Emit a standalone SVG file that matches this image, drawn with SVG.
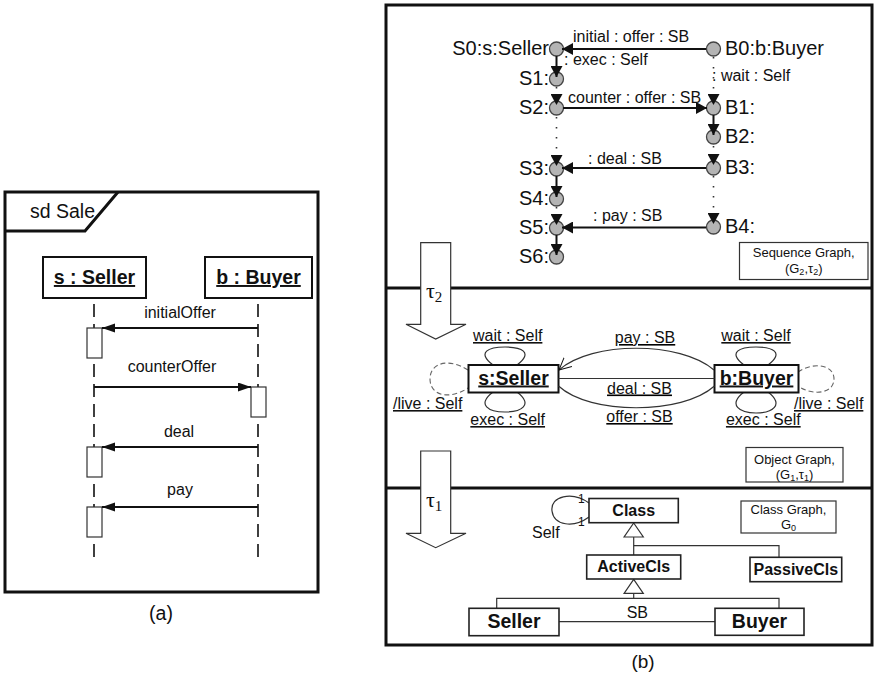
<svg xmlns="http://www.w3.org/2000/svg" width="876" height="681" viewBox="0 0 876 681">
<defs>
<style>
text{font-family:"Liberation Sans",Arial,sans-serif;fill:#111}
.frame{fill:none;stroke:#111;stroke-width:3}
.msg{fill:none;stroke:#111;stroke-width:2}
.life{fill:none;stroke:#111;stroke-width:1.6;stroke-dasharray:13 7}
.act{fill:#fff;stroke:#333;stroke-width:1.2}
.obj{fill:#fff;stroke:#111;stroke-width:2}
.st{fill:#b4b4b4;stroke:#444;stroke-width:1.3}
.sol{fill:none;stroke:#111;stroke-width:2}
.dot{fill:none;stroke:#333;stroke-width:1.6;stroke-dasharray:1.5 8.5}
.thin{fill:none;stroke:#333;stroke-width:1.2}
.box{fill:#fff;stroke:#333;stroke-width:1.2}
.cls{fill:#fff;stroke:#222;stroke-width:1.6}
.big{fill:#fff;stroke:#333;stroke-width:1.2}
.dash{fill:none;stroke:#666;stroke-width:1.1;stroke-dasharray:5 3}
.u{text-decoration:underline}
.b{font-weight:bold}
.tau{font-family:"Liberation Serif","Times New Roman",serif}
</style>
<marker id="fa" markerUnits="userSpaceOnUse" markerWidth="14" markerHeight="10" refX="13" refY="4.5" orient="auto"><path d="M0,0 L13,4.5 L0,9 z" fill="#111"/></marker>
<marker id="fs" markerUnits="userSpaceOnUse" markerWidth="12" markerHeight="12" refX="11" refY="6" orient="auto"><path d="M0,0 L11,6 L0,12 z" fill="#111"/></marker>
<marker id="oa" markerUnits="userSpaceOnUse" markerWidth="14" markerHeight="14" refX="12" refY="7" orient="auto"><path d="M0,1 L12,7 L0,13" fill="none" stroke="#111" stroke-width="1"/></marker>
</defs>

<!-- (a) sequence diagram -->
<g id="frame-a">
<rect class="frame" x="5" y="192" width="313" height="400"/>
<polyline class="frame" points="5,231 85,231 118,192"/>
<text x="30" y="218" font-size="19.5">sd Sale</text>
</g>
<g id="lifeline-seller">
<rect x="43" y="257" width="103" height="41" fill="#fff" stroke="#111" stroke-width="2"/>
<text x="94.5" y="284" font-size="19.5" text-anchor="middle" class="b u">s : Seller</text>
<line class="life" x1="94" y1="304" x2="94" y2="557"/>
<rect class="act" x="87" y="328" width="15" height="30"/>
<rect class="act" x="87" y="447" width="15" height="30"/>
<rect class="act" x="87" y="507" width="15" height="30"/>
</g>
<g id="lifeline-buyer">
<rect x="205" y="257" width="107" height="41" fill="#fff" stroke="#111" stroke-width="2"/>
<text x="258.5" y="284" font-size="19.5" text-anchor="middle" class="b u">b : Buyer</text>
<line class="life" x1="258" y1="304" x2="258" y2="557"/>
<rect class="act" x="251" y="387" width="15" height="30"/>
</g>
<g id="messages-a">
<line class="msg" x1="258" y1="328" x2="102" y2="328" marker-end="url(#fa)"/>
<text x="180" y="318" font-size="16" text-anchor="middle">initialOffer</text>
<line class="msg" x1="94" y1="387" x2="251" y2="387" marker-end="url(#fa)"/>
<text x="172" y="372" font-size="16" text-anchor="middle">counterOffer</text>
<line class="msg" x1="258" y1="447" x2="102" y2="447" marker-end="url(#fa)"/>
<text x="179" y="437" font-size="16" text-anchor="middle">deal</text>
<line class="msg" x1="258" y1="507" x2="102" y2="507" marker-end="url(#fa)"/>
<text x="180" y="495" font-size="16" text-anchor="middle">pay</text>
</g>
<text x="161" y="620" font-size="19.5" text-anchor="middle">(a)</text>

<!-- (b) frame -->
<g id="frame-b">
<rect class="frame" x="386" y="5" width="486" height="640"/>
<line class="frame" x1="386" y1="288" x2="872" y2="288"/>
<line class="frame" x1="386" y1="488" x2="872" y2="488"/>
</g>

<!-- Sequence graph -->
<g id="seq-states">
<circle class="st" cx="556.5" cy="49" r="7"/>
<circle class="st" cx="556.5" cy="79" r="7"/>
<circle class="st" cx="556.5" cy="108" r="7"/>
<circle class="st" cx="556.5" cy="169" r="7"/>
<circle class="st" cx="556.5" cy="199" r="7"/>
<circle class="st" cx="556.5" cy="228" r="7"/>
<circle class="st" cx="556.5" cy="257" r="7"/>
<circle class="st" cx="713.5" cy="49" r="7"/>
<circle class="st" cx="713.5" cy="108" r="7"/>
<circle class="st" cx="713.5" cy="137" r="7"/>
<circle class="st" cx="713.5" cy="168" r="7"/>
<circle class="st" cx="713.5" cy="227" r="7"/>
<g font-size="20" text-anchor="end">
<text x="549" y="55">S0:s:Seller</text>
<text x="549" y="85">S1:</text>
<text x="549" y="114">S2:</text>
<text x="549" y="175">S3:</text>
<text x="549" y="205">S4:</text>
<text x="549" y="234">S5:</text>
<text x="549" y="263">S6:</text>
</g>
<g font-size="20">
<text x="725" y="55">B0:b:Buyer</text>
<text x="725" y="114">B1:</text>
<text x="725" y="143">B2:</text>
<text x="725" y="174">B3:</text>
<text x="725" y="233">B4:</text>
</g>
</g>
<g id="seq-connectors">
<line class="sol" x1="706" y1="49" x2="562" y2="49" marker-end="url(#fs)"/>
<line class="sol" x1="556.5" y1="56" x2="556.5" y2="77" marker-end="url(#fs)"/>
<line class="dot" x1="556.5" y1="87" x2="556.5" y2="105" marker-end="url(#fs)"/>
<line class="dot" x1="713.5" y1="57" x2="713.5" y2="105" marker-end="url(#fs)"/>
<line class="sol" x1="563" y1="108" x2="707" y2="108" marker-end="url(#fs)"/>
<line class="dot" x1="556.5" y1="117" x2="556.5" y2="166" marker-end="url(#fs)"/>
<line class="sol" x1="713.5" y1="115" x2="713.5" y2="135" marker-end="url(#fs)"/>
<line class="dot" x1="713.5" y1="146" x2="713.5" y2="165" marker-end="url(#fs)"/>
<line class="sol" x1="706" y1="168" x2="562" y2="168" marker-end="url(#fs)"/>
<line class="sol" x1="556.5" y1="176" x2="556.5" y2="197" marker-end="url(#fs)"/>
<line class="dot" x1="556.5" y1="207" x2="556.5" y2="225" marker-end="url(#fs)"/>
<line class="dot" x1="713.5" y1="176" x2="713.5" y2="224" marker-end="url(#fs)"/>
<line class="sol" x1="706" y1="227.5" x2="562" y2="227.5" marker-end="url(#fs)"/>
<line class="sol" x1="556.5" y1="235" x2="556.5" y2="255" marker-end="url(#fs)"/>
<g font-size="16">
<text x="573" y="42">initial : offer : SB</text>
<text x="564" y="65">: exec : Self</text>
<text x="712" y="81">: wait : Self</text>
<text x="568" y="103">counter : offer : SB</text>
<text x="588" y="164">: deal : SB</text>
<text x="593" y="221">: pay : SB</text>
</g>
</g>
<g id="seq-caption">
<rect class="box" x="739.5" y="242.5" width="128.5" height="37"/>
<text x="803.7" y="257" font-size="13" text-anchor="middle">Sequence Graph,</text>
<text x="803.7" y="273" font-size="13" text-anchor="middle">(G<tspan font-size="9" dy="2">2</tspan><tspan dy="-2">,τ</tspan><tspan font-size="9" dy="2">2</tspan><tspan dy="-2">)</tspan></text>
</g>

<!-- Object graph -->
<g id="obj-seller">
<path class="thin" d="M493,365 C476,352 489,347 505,347 C521,347 534,352 517,365"/>
<path class="thin" d="M493,392 C476,405 489,412 505,412 C521,412 534,405 517,392"/>
<path class="dash" d="M468,370 C450,358 430,362 430,379 C430,396 450,400 468,388"/>
<rect class="obj" x="468.5" y="365" width="90" height="27.5"/>
<text x="513.5" y="384.5" font-size="19.5" text-anchor="middle" class="b u">s:Seller</text>
<text x="507.7" y="341" font-size="16" text-anchor="middle" class="u">wait : Self</text>
<text x="507.7" y="425" font-size="16" text-anchor="middle" class="u">exec : Self</text>
<text x="393" y="409" font-size="16" class="u">/live : Self</text>
</g>
<g id="obj-buyer">
<path class="thin" d="M744,365 C727,352 740,347 756,347 C772,347 785,352 768,365"/>
<path class="thin" d="M744,392 C727,405 740,413 756,413 C772,413 785,405 768,392"/>
<path class="dash" d="M798,372 C812,362 834,364 834,379 C834,394 812,396 798,386"/>
<rect class="obj" x="714.5" y="365" width="84" height="27.5"/>
<text x="756.5" y="384.5" font-size="19.5" text-anchor="middle" class="b u">b:Buyer</text>
<text x="756" y="341" font-size="16" text-anchor="middle" class="u">wait : Self</text>
<text x="763.3" y="425" font-size="16" text-anchor="middle" class="u">exec : Self</text>
<text x="794" y="409" font-size="16" class="u">/live : Self</text>
</g>
<g id="obj-connectors">
<path class="thin" d="M714,370 C680,341 592,341 559,370" marker-end="url(#oa)"/>
<line class="thin" x1="558.5" y1="378.5" x2="714.5" y2="378.5"/>
<path class="thin" d="M558.5,386 C590,415 682,415 714.5,386"/>
<g font-size="16" text-anchor="middle" class="u">
<text x="645" y="343">pay : SB</text>
<text x="639.5" y="393.5">deal : SB</text>
<text x="639.5" y="422">offer : SB</text>
</g>
</g>
<g id="obj-caption">
<rect class="box" x="746" y="447.5" width="97" height="34.5"/>
<text x="794.5" y="464" font-size="13" text-anchor="middle">Object Graph,</text>
<text x="794.5" y="479" font-size="13" text-anchor="middle">(G<tspan font-size="9" dy="2">1</tspan><tspan dy="-2">,τ</tspan><tspan font-size="9" dy="2">1</tspan><tspan dy="-2">)</tspan></text>
</g>

<!-- transformation arrows -->
<g id="tau2">
<polygon class="big" points="420.7,242.7 450.7,242.7 450.7,324.3 466,324.3 435.7,339 406,324.3 420.7,324.3"/>
<text x="426" y="298" font-size="22" class="tau">τ<tspan font-size="15" dy="3.5">2</tspan></text>
</g>
<g id="tau1">
<polygon class="big" points="420.7,451 450.7,451 450.7,533.3 466,533.3 435.7,547.7 406,533.3 420.7,533.3"/>
<text x="426" y="507" font-size="22" class="tau">τ<tspan font-size="15" dy="3.5">1</tspan></text>
</g>

<!-- Class graph -->
<g id="class-connectors">
<path class="thin" d="M589,503 C572,491 550,496 552,511 C554,526 574,528 589,517"/>
<text x="578" y="503" font-size="12">1</text>
<text x="578" y="526" font-size="12">1</text>
<text x="532" y="538" font-size="16">Self</text>
<polyline class="thin" points="633.7,537 633.7,555"/>
<polyline class="thin" points="633.7,545.7 779,545.7 779,557.3"/>
<polygon class="box" points="633.7,523 643.3,537 624.1,537"/>
<polyline class="thin" points="633.7,593.3 633.7,598.3"/>
<polyline class="thin" points="496.7,608.3 496.7,598.3 779,598.3 779,608.3"/>
<polygon class="box" points="633.7,579.3 643.3,593.3 624.1,593.3"/>
<line class="thin" x1="559" y1="621.7" x2="715" y2="621.7"/>
<text x="637.3" y="618" font-size="16" text-anchor="middle">SB</text>
</g>
<g id="cls-class">
<rect class="cls" x="589" y="498.5" width="89.3" height="24.2"/>
<text x="633.7" y="516" font-size="16" text-anchor="middle" class="b">Class</text>
</g>
<g id="cls-active">
<rect class="cls" x="586.7" y="555" width="94" height="24"/>
<text x="633.7" y="572" font-size="16" text-anchor="middle" class="b">ActiveCls</text>
</g>
<g id="cls-passive">
<rect class="cls" x="750" y="557.3" width="91.7" height="24.4"/>
<text x="795.8" y="574.5" font-size="16" text-anchor="middle" class="b">PassiveCls</text>
</g>
<g id="cls-seller">
<rect class="cls" x="469" y="608.3" width="90" height="27.4"/>
<text x="514" y="628" font-size="19.5" text-anchor="middle" class="b">Seller</text>
</g>
<g id="cls-buyer">
<rect class="cls" x="715" y="608.3" width="89" height="27"/>
<text x="759.5" y="628" font-size="19.5" text-anchor="middle" class="b">Buyer</text>
</g>
<g id="cls-caption">
<rect class="box" x="741" y="501" width="95" height="32"/>
<text x="788.5" y="514" font-size="13" text-anchor="middle">Class Graph,</text>
<text x="788.5" y="529" font-size="13" text-anchor="middle">G<tspan font-size="9" dy="2">0</tspan></text>
</g>
<text x="643" y="668" font-size="19" text-anchor="middle">(b)</text>
</svg>
